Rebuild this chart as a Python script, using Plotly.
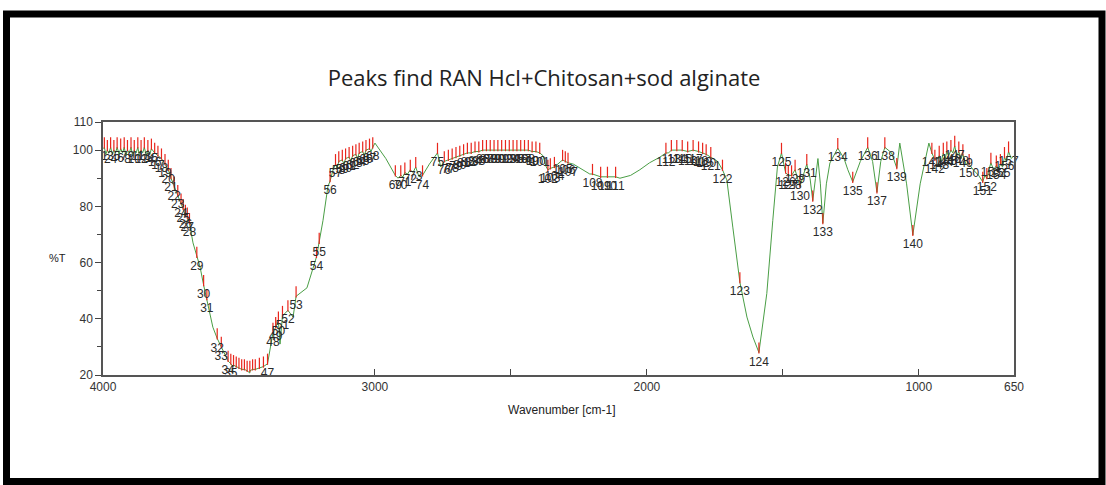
import plotly.graph_objects as go

# ---------------- data ----------------
# spectrum line points that are not numbered peaks (wavenumber, %T)
curve_wn = [4000, 3990, 3978, 3966, 3954, 3941, 3928, 3916, 3903, 3891, 3878, 3866, 3854, 3841, 3828,
            3669, 3643, 3596, 3522, 3460, 3349, 3301, 3250, 3191, 3173, 3154,
            3139, 3114, 3089, 3064, 3039, 3014, 3000, 2960,
            2915, 2897, 2880, 2860, 2838, 2800, 2758,
            2382, 2370, 2270, 2235, 2210, 2099, 2060, 2026, 1990, 1952, 1920, 1740,
            1706, 1684, 1632, 1610, 1559, 1537, 1520, 1498,
            1425, 1400, 1380, 1371, 1362, 1340, 1327, 1275, 1261, 1215, 1170, 1140, 1100, 1070,
            1045, 995, 963, 933, 917, 903, 890, 875, 860, 845, 827, 800, 780, 757, 742, 725, 708,
            692, 678, 660, 650]
curve_t = [100.5, 98.5, 99, 98.5, 99, 98.5, 99, 98, 99, 98, 99, 98, 99, 98, 98.5,
           67, 58.4, 37, 23, 20.7, 31, 40.6, 51, 75, 87, 93,
           93.5, 95, 96, 97, 98, 99.5, 102.5, 97,
           90, 90.5, 91.5, 92, 90.5, 95, 94,
           98, 94, 95, 93, 91.5, 90, 91, 93, 95.5, 97.5, 99, 96,
           89.4, 72.6, 40.6, 33.5, 49, 75, 94, 96,
           91, 90, 90, 97, 88, 88, 95.4, 97, 93, 96, 96, 96, 99, 102.5,
           88, 88, 102.5, 97, 96, 97, 98, 99, 98, 97, 95, 93, 91, 91, 93, 93, 93,
           94, 96, 97, 98]

# numbered peaks
peak_no = list(range(1, 158))
peak_wn = [3995, 3984, 3972, 3960, 3948, 3935, 3922, 3910, 3897, 3885, 3872, 3860, 3848, 3835, 3822,
           3810, 3798, 3785, 3772, 3760, 3750, 3738, 3725, 3713, 3705, 3697, 3690, 3682,
           3655, 3630, 3618, 3580, 3565,
           3540, 3530, 3520, 3510, 3500, 3490, 3480, 3470, 3460, 3450, 3440, 3425, 3410, 3395,
           3375, 3365, 3355, 3340, 3320, 3290, 3215, 3205, 3165,
           3145, 3133, 3120, 3108, 3095, 3082, 3070, 3058, 3045, 3033, 3020, 3008,
           2925, 2905, 2890, 2870, 2850, 2825, 2770,
           2745, 2730, 2716, 2702, 2688, 2674, 2660, 2646, 2632, 2618, 2604, 2590, 2576, 2562,
           2548, 2534, 2520, 2506, 2492, 2478, 2464, 2450, 2436, 2422, 2408, 2394,
           2364, 2355, 2340, 2310, 2300, 2290, 2200, 2170, 2145, 2115,
           1930, 1910, 1890, 1870, 1850, 1830, 1810, 1795, 1782, 1765, 1722, 1658, 1588,
           1505, 1490, 1480, 1468, 1455, 1437, 1412, 1390, 1353, 1298, 1243, 1188, 1154, 1125,
           1081, 1022,
           952, 941, 925, 910, 897, 882, 868, 853, 838, 815, 765, 750, 735, 715, 700, 685, 670]
peak_t = [101, 100, 101, 100, 101, 100.5, 101, 100, 101, 100, 101, 100, 101, 100, 100.5,
          99, 98, 97, 95, 93, 90, 87, 84, 81, 79, 77, 76, 74,
          62, 52, 47, 33, 30,
          25, 24, 23.5, 23, 22.5, 22, 22, 21.5, 21.5, 22, 22, 22.5, 23, 24,
          35, 37, 39, 41, 43, 48, 62, 67, 89,
          95, 96, 96.5, 97, 97.5, 98, 98.5, 99, 99.5, 100, 100.5, 101,
          91, 91, 92, 93, 94, 91, 99,
          96, 96.5, 97, 97.5, 98, 98.5, 99, 99, 99.5, 99.5, 100, 100, 100, 100,
          100, 100, 100, 100, 100, 100, 100, 100, 100, 99.5, 99.5, 99,
          93, 93.5, 94, 96.5, 96, 95.5, 91.5, 90.5, 90.5, 90.5,
          99, 100, 100, 100, 99.5, 100, 99.5, 99, 98.5, 97.5, 93, 53, 28,
          99, 92, 91, 91, 93, 87, 95, 82, 74, 100.7, 88.7, 101, 85, 101,
          93.6, 69.8,
          99, 96.5, 98, 99, 99.5, 100, 101.5, 99.5, 98.5, 95, 88.7, 90, 95.5, 94.5, 95, 97.5, 99.5]

x_ticks = [4000, 3000, 2000, 1000, 650]
y_ticks = [20, 40, 60, 80, 100, 110]

# ---------------- figure ----------------
pts = sorted(zip(curve_wn + peak_wn, curve_t + peak_t), key=lambda p: -p[0])
line_x = [p[0] for p in pts]
line_y = [p[1] for p in pts]

MARK_UP = 1.6     # red marker drawn just above the peak
LABEL_DOWN = 3.6  # label placed under the peak

fig = go.Figure()
fig.add_trace(go.Scatter(x=line_x, y=line_y, mode="lines",
                         line=dict(color="#4a9e45", width=1), hoverinfo="skip"))
fig.add_trace(go.Scatter(x=peak_wn, y=[t + MARK_UP for t in peak_t], mode="markers",
                         marker=dict(symbol="line-ns", size=8,
                                     line=dict(color="#e8261c", width=1.2)),
                         cliponaxis=False, hoverinfo="skip"))
fig.add_trace(go.Scatter(x=peak_wn, y=[t - LABEL_DOWN for t in peak_t], mode="text",
                         text=[str(n) for n in peak_no],
                         textfont=dict(family="Liberation Sans Narrow, Liberation Sans, Arial",
                                       size=12, color="#2a2a2a"),
                         cliponaxis=False, hoverinfo="skip"))

L, R, T, B = 103, 1014, 122, 375
W, H = 1106, 485
pw, ph = R - L, B - T

def px(x):
    return (x - L) / pw

def py(y):
    return (B - y) / ph

tickfont = dict(family="Liberation Sans Narrow, Liberation Sans, Arial", size=12, color="#333")

fig.update_layout(
    width=W, height=H,
    margin=dict(l=L, r=W - R, t=T, b=H - B),
    paper_bgcolor="white", plot_bgcolor="white",
    showlegend=False,
    title=dict(text="Peaks find RAN Hcl+Chitosan+sod alginate",
               font=dict(family="Open Sans", size=22, color="#222"),
               x=px(544), xref="paper", xanchor="center",
               y=1 - 78 / H, yref="container", yanchor="middle"),
    xaxis=dict(range=[4000, 650], tickvals=x_ticks, ticktext=[str(v) for v in x_ticks],
               ticks="inside", ticklen=6, tickcolor="#444", tickfont=tickfont,
               minor=dict(tickvals=[2500, 1500], ticks="inside", ticklen=6, tickcolor="#444"),
               showgrid=False, zeroline=False, showline=True, linecolor="#555",
               linewidth=1.5, mirror=True),
    yaxis=dict(range=[20, 110], tickvals=y_ticks, ticks="outside", ticklen=6,
               tickcolor="#444", tickfont=tickfont,
               minor=dict(tickvals=[30, 50, 70, 90], ticks="outside", ticklen=4, tickcolor="#444"),
               showgrid=False, zeroline=False, showline=True, linecolor="#555",
               linewidth=1.5, mirror=True),
    annotations=[
        dict(text="%T", x=px(57), y=py(258), xref="paper", yref="paper", showarrow=False,
             xanchor="center", yanchor="middle",
             font=dict(family="Liberation Sans, Arial", size=11, color="#222")),
        dict(text="Wavenumber [cm-1]", x=px(562), y=py(410), xref="paper", yref="paper",
             showarrow=False, xanchor="center", yanchor="middle",
             font=dict(family="Liberation Sans Narrow, Liberation Sans, Arial", size=12, color="#222")),
    ],
    shapes=[
        dict(type="rect", xref="paper", yref="paper",
             x0=px(6.5), x1=px(1102), y0=py(481.5), y1=py(14),
             line=dict(color="black", width=7), fillcolor="rgba(0,0,0,0)", layer="above"),
    ],
)

fig.write_html("out.html")
